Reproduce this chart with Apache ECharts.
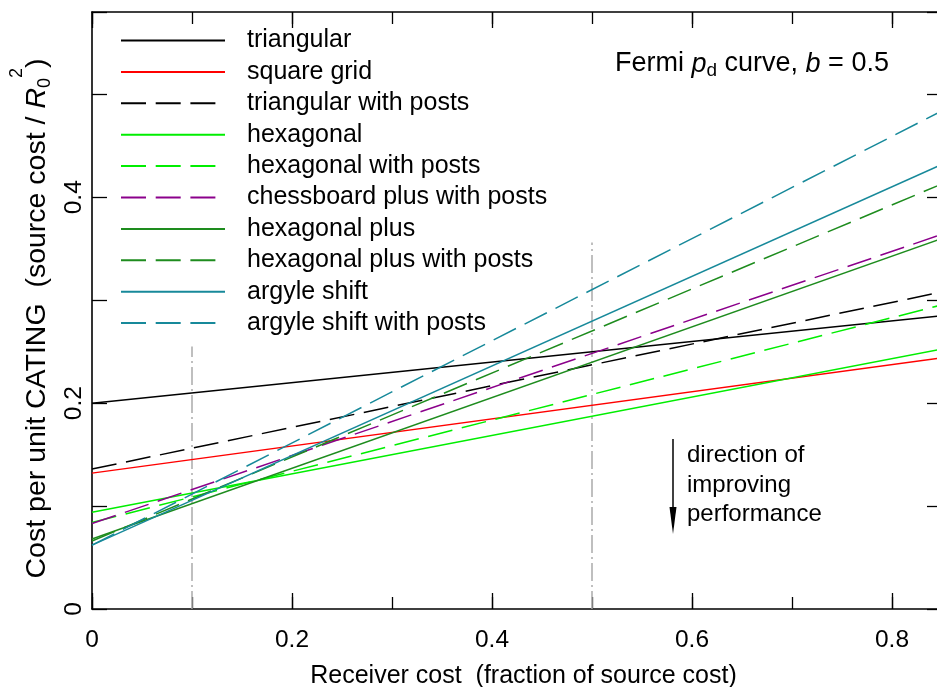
<!DOCTYPE html>
<html><head><meta charset="utf-8">
<script src="https://cdn.jsdelivr.net/npm/echarts@6/dist/echarts.min.js"></script>
<style>html,body{margin:0;padding:0;background:#fff}#c{width:937px;height:687px}</style>
</head><body><div id="c"></div>
<script>
// ---- data ----
const seriesNames = ['triangular','square grid','triangular with posts','hexagonal','hexagonal with posts',
  'chessboard plus with posts','hexagonal plus','hexagonal plus with posts','argyle shift','argyle shift with posts'];
const xSpan = [0, 0.85];
const startValues = [0.200, 0.132, 0.136, 0.094, 0.084, 0.083, 0.068, 0.066, 0.062, 0.062];
const endValues   = [0.285, 0.244, 0.308, 0.2525, 0.2955, 0.364, 0.360, 0.413, 0.432, 0.484];
const xTickLabels = ['0','0.2','0.4','0.6','0.8'];
const yTickLabels = ['0','0.2','0.4'];
const refLineX = [0.1, 0.5];
const refLineTop = [0.255, 0.356];

// ---- styles ----
const lineColors = ['#000000','#ff0000','#000000','#00ee00','#00ee00','#8b008b','#1e8c1e','#1e8c1e','#17899a','#17899a'];
const lineDashed = [false,false,true,false,true,true,false,true,false,true];
const FONT = 'Liberation Sans, Arial, Helvetica, sans-serif';
const fmt = (list) => (v) => { const s = String(+(+v).toFixed(4)); return list.indexOf(s) >= 0 ? s : ''; };

const series = [];
refLineX.forEach((x, i) => {
  series.push({
    type: 'line', symbol: 'none', silent: true, z: 1,
    data: [[x, 0], [x, refLineTop[i]]],
    lineStyle: { color: '#aaaaaa', width: 1.5, type: [18, 4, 2, 4] }
  });
});
seriesNames.forEach((name, i) => {
  series.push({
    name, type: 'line', symbol: 'none', z: 3,
    data: [[xSpan[0], startValues[i]], [xSpan[1], endValues[i]]],
    itemStyle: { color: lineColors[i] },
    lineStyle: { color: lineColors[i], width: 1.5, type: lineDashed[i] ? [25, 9.7] : 'solid' }
  });
});

const xBase = (pos, major) => ({
  type: 'value', position: pos, min: 0, max: 0.85, interval: major ? 0.2 : 0.1,
  axisLine: { show: major, onZero: false, lineStyle: { color: '#000', width: 1.6 } },
  axisTick: { show: true, inside: true, length: major ? 16 : 12, lineStyle: { color: '#000', width: 1.3 } },
  axisLabel: { show: false },
  splitLine: { show: false }
});
const xMain = xBase('bottom', true);
xMain.axisLabel = { show: true, margin: 19, fontSize: 24.5, fontFamily: FONT, color: '#000', formatter: fmt(xTickLabels) };
xMain.name = 'Receiver cost  (fraction of source cost)';
xMain.nameLocation = 'middle';
xMain.nameGap = 55;
xMain.nameTextStyle = { fontSize: 25, fontFamily: FONT, color: '#000', padding: [0, 0, 0, 13] };

const yBase = (pos) => ({
  type: 'value', position: pos, min: 0, max: 0.58, interval: 0.1,
  axisLine: { show: pos === 'left', onZero: false, lineStyle: { color: '#000', width: 1.6 } },
  axisTick: { show: true, inside: true, length: 15, lineStyle: { color: '#000', width: 1.3 } },
  axisLabel: { show: false },
  splitLine: { show: false }
});
const yMain = yBase('left');
yMain.axisLabel = { show: true, rotate: 90, margin: 5, fontSize: 24.5, fontFamily: FONT, color: '#000', formatter: fmt(yTickLabels) };
yMain.name = 'Cost per unit CATING  (source cost / {i|R}{sub|0}{sup|2})';
yMain.nameLocation = 'middle';
yMain.nameGap = 26;
yMain.nameTextStyle = {
  fontSize: 28.5, fontFamily: FONT, color: '#000', lineHeight: 34, padding: [0, 16, 0, 0],
  rich: {
    i: { fontSize: 28.5, fontStyle: 'italic', fontFamily: FONT, color: '#000' },
    sub: { fontSize: 18, fontFamily: FONT, color: '#000', padding: [16, 0, 0, 0] },
    sup: { fontSize: 18, fontFamily: FONT, color: '#000', padding: [0, 0, 40, 0] }
  }
};

const option = {
  animation: false,
  backgroundColor: '#fff',
  grid: { left: 92, right: -5, top: 12, bottom: 78, containLabel: false, outerBoundsMode: 'none' },
  xAxis: [xMain, xBase('top', true), xBase('bottom', false), xBase('top', false)],
  yAxis: [yMain, yBase('right')],
  legend: {
    data: seriesNames, orient: 'vertical', left: 120, top: 28, padding: 0,
    itemWidth: 104, itemHeight: 24, itemGap: 6.4, selectedMode: false,
    itemStyle: { opacity: 0, borderWidth: 0 },
    textStyle: { fontSize: 25, fontFamily: FONT, color: '#000', lineHeight: 24, padding: [0, 0, 0, 17] }
  },
  graphic: [
    { type: 'text', x: 615, y: 64, z: 10,
      style: { text: 'Fermi {i|p}{sub|d} curve, {i|b} = 0.5', align: 'left', verticalAlign: 'middle',
        fontSize: 27, fontFamily: FONT, fill: '#000',
        rich: {
          i: { fontSize: 27, fontStyle: 'italic', fontFamily: FONT, fill: '#000' },
          sub: { fontSize: 19, fontFamily: FONT, fill: '#000', padding: [13, 0, 0, 0] }
        } } },
    { type: 'text', x: 687, y: 485, z: 10,
      style: { text: 'direction of\nimproving\nperformance', align: 'left', verticalAlign: 'middle',
        fontSize: 24, fontFamily: FONT, fill: '#000', lineHeight: 29.5 } },
    { type: 'line', z: 10, shape: { x1: 673, y1: 439, x2: 673, y2: 514 }, style: { stroke: '#000', lineWidth: 1.5 } },
    { type: 'polygon', z: 10, shape: { points: [[669.5, 507], [676.5, 507], [673, 534]] }, style: { fill: '#000' } }
  ],
  series
};
const chart = echarts.init(document.getElementById('c'), null, { renderer: 'canvas' });
chart.setOption(option);
</script></body></html>
